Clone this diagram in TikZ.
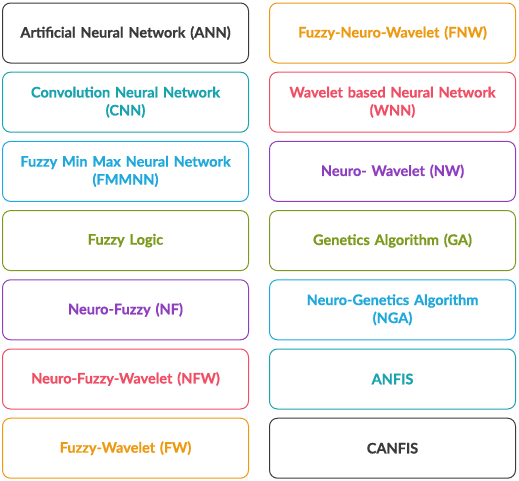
\documentclass[tikz,border=0pt]{standalone}
\usepackage{fontspec}
\setmainfont{Lato}[BoldFeatures={FakeBold=0.8}]
\usepackage{tikz}
\usetikzlibrary{positioning}

\definecolor{ink}{HTML}{3A3A3C}
\definecolor{teal}{HTML}{1AA3AF}
\definecolor{sky}{HTML}{1FA8DC}
\definecolor{olive}{HTML}{7C9A1E}
\definecolor{violet}{HTML}{8E3FBF}
\definecolor{rose}{HTML}{F04E64}
\definecolor{amber}{HTML}{ED9A12}

\begin{document}
\begin{tikzpicture}[
  node distance=8.2pt and 20pt,
  box/.style={rectangle, draw=#1, text=#1, line width=1pt, rounded corners=8pt,
    minimum width=246pt, minimum height=60pt, text width=228pt, align=center,
    font=\fontsize{14.5}{18}\selectfont\bfseries}
]
\useasboundingbox (0,0) rectangle (519pt,-480pt);
% left column
\node[box=ink] (ann) at (125.5pt,-33pt) {Artificial Neural Network (ANN)};
\node[box=teal, below=of ann] (cnn) {Convolution Neural Network\\(CNN)};
\node[box=sky, below=of cnn] (fmmnn) {Fuzzy Min Max Neural Network\\(FMMNN)};
\node[box=olive, below=of fmmnn] (fl) {Fuzzy Logic};
\node[box=violet, below=of fl] (nf) {Neuro-Fuzzy (NF)};
\node[box=rose, below=of nf] (nfw) {Neuro-Fuzzy-Wavelet (NFW)};
\node[box=amber, below=of nfw] (fw) {Fuzzy-Wavelet (FW)};
% right column
\node[box=amber, right=of ann] (fnw) {Fuzzy-Neuro-Wavelet (FNW)};
\node[box=rose, below=of fnw] (wnn) {Wavelet based Neural Network\\(WNN)};
\node[box=violet, below=of wnn] (nw) {Neuro- Wavelet (NW)};
\node[box=olive, below=of nw] (ga) {Genetics Algorithm (GA)};
\node[box=sky, below=of ga] (nga) {Neuro-Genetics Algorithm\\(NGA)};
\node[box=teal, below=of nga] (anfis) {ANFIS};
\node[box=ink, below=of anfis] (canfis) {CANFIS};
\end{tikzpicture}
\end{document}
